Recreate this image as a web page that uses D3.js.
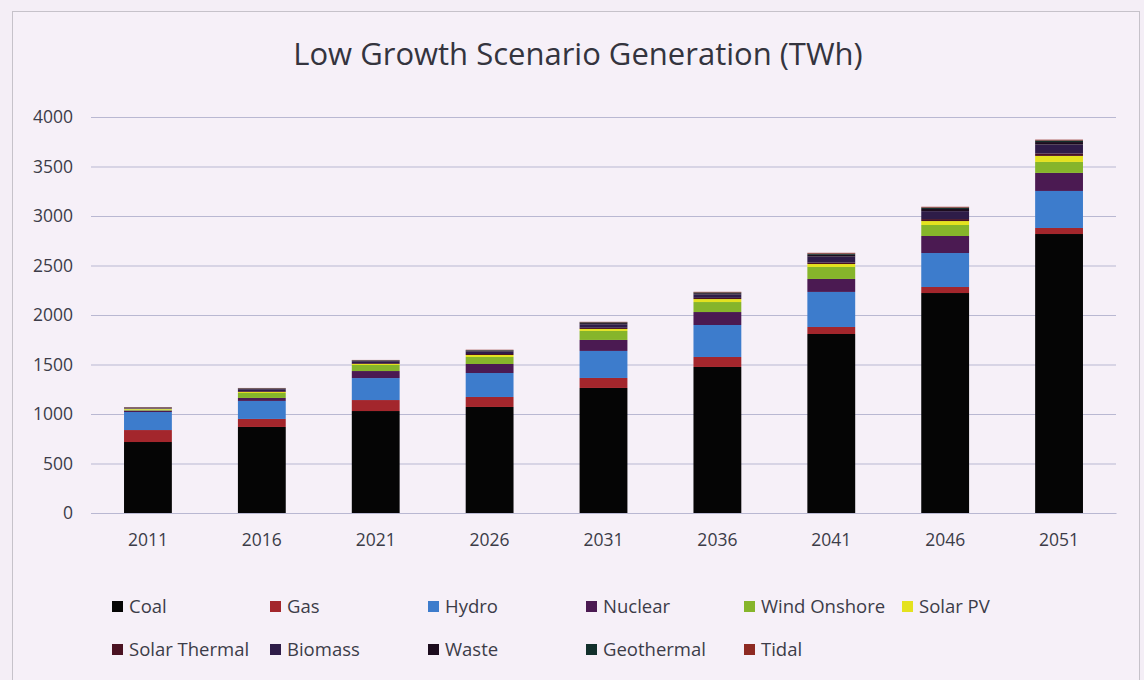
<!DOCTYPE html>
<html>
<head>
<meta charset="utf-8">
<script src="https://cdn.jsdelivr.net/npm/d3@7"></script>
<style>
  body { margin: 0; background: #f4eef6; }
  svg { display: block; }
  .tick text { fill: #3c3c48; font-family: "Open Sans", sans-serif; font-size: 17.5px; }
</style>
</head>
<body>
<svg class="canvas" width="1144" height="680"></svg>
<script>
// data (TWh)
var years = ['2011', '2016', '2021', '2026', '2031', '2036', '2041', '2046', '2051'];
var sources = ['Coal', 'Gas', 'Hydro', 'Nuclear', 'Wind Onshore', 'Solar PV',
	'Solar Thermal', 'Biomass', 'Waste', 'Geothermal', 'Tidal'];
var colours = ['#050505', '#a3262c', '#3d7ccc', '#4b1a52', '#86b52b', '#e4e21f',
	'#4a1222', '#2e1c48', '#1c0c1e', '#12302c', '#8e2a22'];

var coal = [717, 869, 1030, 1071, 1263, 1475, 1808, 2222, 2818];
var gas = [121, 81, 111, 101, 101, 101, 71, 61, 61];
var hydro = [182, 182, 222, 242, 273, 323, 354, 343, 374];
var nuclear = [15, 30, 71, 91, 111, 131, 131, 172, 182];
var wind = [10, 50, 61, 71, 91, 101, 121, 111, 111];
var solarPV = [8, 10, 10, 20, 20, 30, 30, 40, 61];
var solarThermal = [3, 8, 8, 10, 12, 12, 15, 20, 25];
var biomass = [6, 20, 20, 25, 35, 35, 60, 80, 90];
var waste = [3, 6, 6, 8, 12, 12, 18, 22, 25];
var geothermal = [2, 4, 4, 6, 8, 8, 12, 14, 16];
var tidal = [3, 3, 3, 4, 5, 6, 8, 8, 8];

var yTicks = [0, 500, 1000, 1500, 2000, 2500, 3000, 3500, 4000];

var series = [coal, gas, hydro, nuclear, wind, solarPV, solarThermal, biomass, waste, geothermal, tidal];

var rows = years.map(function(y, i) {
	var r = { year: y };
	sources.forEach(function(s, k) { r[s] = series[k][i]; });
	return r;
});

var svg = d3.select('.canvas');
var plot_left = 91, plot_right = 1116, plot_top = 117, plot_bottom = 513;

// chart frame
svg.append('rect')
	.attr('x', 12.5).attr('y', 11.5)
	.attr('width', 1127).attr('height', 700)
	.attr('fill', '#f6f0f8')
	.attr('stroke', '#c6c2ca');

svg.append('text')
	.attr('x', 578).attr('y', 65)
	.attr('text-anchor', 'middle')
	.attr('font-family', '"Open Sans", sans-serif')
	.attr('font-size', 31)
	.attr('fill', '#34343e')
	.text('Low Growth Scenario Generation (TWh)');

var x = d3.scaleBand()
	.domain(years)
	.range([plot_left, plot_right])
	.paddingInner(0.58)
	.paddingOuter(0.29);

var y = d3.scaleLinear()
	.domain([0, 4000])
	.range([plot_bottom, plot_top]);

var color = d3.scaleOrdinal().domain(sources).range(colours);

// gridlines + y labels
var yAxis = svg.append('g')
	.attr('transform', 'translate(' + plot_left + ',0)')
	.call(d3.axisLeft(y).tickValues(yTicks).tickFormat(d3.format('d'))
		.tickSize(-(plot_right - plot_left)).tickPadding(18));
yAxis.select('.domain').remove();
yAxis.selectAll('.tick line').attr('stroke', '#b9b8d2');

var stack = d3.stack().keys(sources);
var layers = stack(rows);

svg.append('g').selectAll('g')
	.data(layers)
	.enter().append('g')
	.attr('fill', function(d) { return color(d.key); })
	.selectAll('rect')
	.data(function(d) { return d; })
	.enter().append('rect')
	.attr('x', function(d) { return x(d.data.year); })
	.attr('width', x.bandwidth())
	.attr('y', function(d) { return y(d[1]); })
	.attr('height', function(d) { return y(d[0]) - y(d[1]); });

// x labels
var xAxis = svg.append('g')
	.attr('transform', 'translate(0,' + plot_bottom + ')')
	.call(d3.axisBottom(x).tickSize(0).tickPadding(21));
xAxis.select('.domain').attr('stroke', '#b9b8d2');

// legend, two rows of six columns
var legend = svg.append('g').selectAll('g')
	.data(sources)
	.enter().append('g')
	.attr('transform', function(d, i) {
		var col = i % 6, row = Math.floor(i / 6);
		return 'translate(' + (112 + col * 158) + ',' + (601 + row * 43) + ')';
	});

legend.append('rect')
	.attr('width', 11).attr('height', 11)
	.attr('fill', function(d) { return color(d); });

legend.append('text')
	.attr('x', 17).attr('y', 12)
	.attr('font-family', '"Open Sans", sans-serif')
	.attr('font-size', 18.5)
	.attr('fill', '#3c3c48')
	.text(function(d) { return d; });
</script>
</body>
</html>
